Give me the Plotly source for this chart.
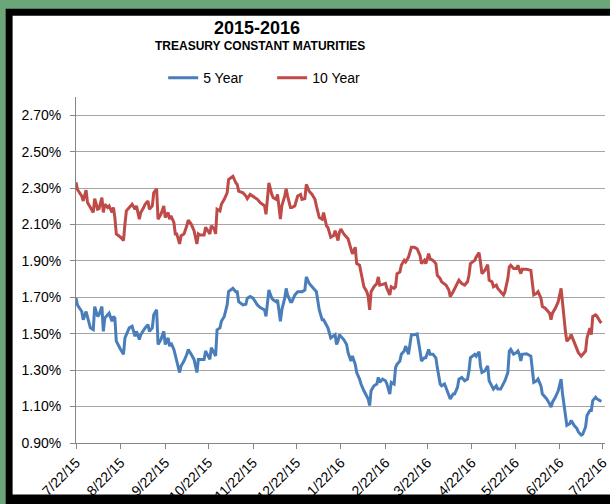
import plotly.graph_objects as go

# ---------------- data ----------------
dates = [
    "2015-07-22", "2015-07-23", "2015-07-26", "2015-07-27", "2015-07-29", "2015-07-30",
    "2015-08-01", "2015-08-03", "2015-08-04", "2015-08-06", "2015-08-07", "2015-08-09",
    "2015-08-10", "2015-08-11", "2015-08-13", "2015-08-14", "2015-08-16", "2015-08-17",
    "2015-08-18", "2015-08-19", "2015-08-22", "2015-08-24", "2015-08-25", "2015-08-26",
    "2015-08-28", "2015-08-30", "2015-09-01", "2015-09-02", "2015-09-04", "2015-09-05",
    "2015-09-07", "2015-09-08", "2015-09-10", "2015-09-11", "2015-09-13", "2015-09-14",
    "2015-09-16", "2015-09-17", "2015-09-19", "2015-09-21", "2015-09-22", "2015-09-24",
    "2015-09-25", "2015-09-26", "2015-09-28", "2015-09-29", "2015-09-30", "2015-10-02",
    "2015-10-03", "2015-10-05", "2015-10-07", "2015-10-08", "2015-10-10", "2015-10-12",
    "2015-10-14", "2015-10-15", "2015-10-16", "2015-10-19", "2015-10-20",
    "2015-10-23", "2015-10-24", "2015-10-26", "2015-10-27", "2015-10-28", "2015-10-30",
    "2015-10-31", "2015-11-02", "2015-11-04", "2015-11-05", "2015-11-08", "2015-11-10",
    "2015-11-11", "2015-11-12", "2015-11-15", "2015-11-17", "2015-11-18", "2015-11-20",
    "2015-11-22", "2015-11-25", "2015-11-27", "2015-11-30", "2015-12-01", "2015-12-02",
    "2015-12-03", "2015-12-05", "2015-12-06", "2015-12-08", "2015-12-09", "2015-12-11",
    "2015-12-12", "2015-12-14", "2015-12-15", "2015-12-16", "2015-12-18", "2015-12-19",
    "2015-12-21", "2015-12-23", "2015-12-25", "2015-12-26", "2015-12-28", "2015-12-29",
    "2015-12-31", "2016-01-02", "2016-01-04", "2016-01-05", "2016-01-07", "2016-01-09",
    "2016-01-10", "2016-01-12", "2016-01-13", "2016-01-15", "2016-01-17",
    "2016-01-18", "2016-01-19", "2016-01-20", "2016-01-21", "2016-01-22", "2016-01-24",
    "2016-01-26", "2016-01-27", "2016-01-29", "2016-01-30", "2016-02-01", "2016-02-02",
    "2016-02-04", "2016-02-05", "2016-02-07", "2016-02-09", "2016-02-10", "2016-02-11",
    "2016-02-12", "2016-02-14", "2016-02-16", "2016-02-17", "2016-02-18", "2016-02-20",
    "2016-02-22", "2016-02-23", "2016-02-25", "2016-02-26", "2016-02-28", "2016-02-29",
    "2016-03-01", "2016-03-03", "2016-03-04", "2016-03-06", "2016-03-07", "2016-03-09",
    "2016-03-11", "2016-03-13", "2016-03-15", "2016-03-17", "2016-03-18", "2016-03-20",
    "2016-03-21", "2016-03-23", "2016-03-24", "2016-03-26", "2016-03-28", "2016-03-29",
    "2016-03-31", "2016-04-01", "2016-04-03", "2016-04-04", "2016-04-06", "2016-04-07",
    "2016-04-09", "2016-04-10", "2016-04-12", "2016-04-13", "2016-04-15",
    "2016-04-17", "2016-04-19", "2016-04-20", "2016-04-21", "2016-04-24", "2016-04-25",
    "2016-04-27", "2016-04-28", "2016-04-29", "2016-05-01", "2016-05-03", "2016-05-04",
    "2016-05-06", "2016-05-07", "2016-05-09", "2016-05-10", "2016-05-12", "2016-05-14",
    "2016-05-15", "2016-05-17", "2016-05-18", "2016-05-19", "2016-05-21", "2016-05-23",
    "2016-05-24", "2016-05-25", "2016-05-26", "2016-05-27", "2016-05-30", "2016-06-02",
    "2016-06-03", "2016-06-04", "2016-06-06", "2016-06-07", "2016-06-09", "2016-06-10",
    "2016-06-12", "2016-06-13", "2016-06-15", "2016-06-16", "2016-06-17", "2016-06-19",
    "2016-06-21", "2016-06-23", "2016-06-24", "2016-06-25", "2016-06-26", "2016-06-27",
    "2016-06-29", "2016-06-30", "2016-07-02", "2016-07-04", "2016-07-05", "2016-07-07",
    "2016-07-08", "2016-07-10", "2016-07-11", "2016-07-13", "2016-07-14", "2016-07-15",
    "2016-07-17", "2016-07-18", "2016-07-20", "2016-07-21",
]

five_year = [
    1.698, 1.658, 1.622, 1.577, 1.622, 1.595, 1.532, 1.522, 1.649, 1.595, 1.604, 1.649,
    1.513, 1.586, 1.604, 1.613, 1.568, 1.595, 1.586, 1.459, 1.414, 1.387, 1.477, 1.495,
    1.532, 1.541, 1.486, 1.513, 1.468, 1.495, 1.522, 1.532, 1.550, 1.513, 1.532, 1.604,
    1.631, 1.441, 1.468, 1.513, 1.441, 1.477, 1.432, 1.450, 1.414, 1.378, 1.350, 1.287,
    1.323, 1.350, 1.387, 1.414, 1.387, 1.359, 1.287, 1.359, 1.359, 1.359, 1.405,
    1.359, 1.423, 1.387, 1.378, 1.522, 1.532, 1.568, 1.595, 1.658, 1.731, 1.749, 1.731,
    1.731, 1.676, 1.658, 1.662, 1.695, 1.704, 1.695, 1.658, 1.644, 1.631, 1.595, 1.658,
    1.740, 1.695, 1.686, 1.676, 1.686, 1.568, 1.631, 1.695, 1.749, 1.713, 1.676, 1.676,
    1.713, 1.731, 1.731, 1.731, 1.740, 1.812, 1.776, 1.758, 1.740, 1.731, 1.631, 1.577,
    1.577, 1.541, 1.532, 1.477, 1.486,
    1.495, 1.441, 1.459, 1.495, 1.486, 1.468, 1.441, 1.396, 1.350, 1.378, 1.332, 1.287,
    1.251, 1.224, 1.187, 1.151, 1.142, 1.106, 1.187, 1.214, 1.224, 1.260, 1.233, 1.251,
    1.242, 1.224, 1.169, 1.233, 1.224, 1.314, 1.332, 1.350, 1.387, 1.405, 1.432, 1.387,
    1.495, 1.495, 1.499, 1.405, 1.350, 1.368, 1.368, 1.414, 1.387, 1.387, 1.368, 1.314,
    1.224, 1.214, 1.224, 1.205, 1.169, 1.142, 1.169, 1.169, 1.205, 1.251, 1.260,
    1.242, 1.251, 1.296, 1.368, 1.387, 1.377, 1.401, 1.323, 1.287, 1.296, 1.323, 1.242,
    1.214, 1.196, 1.214, 1.196, 1.196, 1.224, 1.242, 1.287, 1.405, 1.414, 1.387, 1.396,
    1.405, 1.387, 1.350, 1.387, 1.390, 1.377, 1.296, 1.233, 1.242, 1.251, 1.214, 1.169,
    1.151, 1.142, 1.115, 1.097, 1.124, 1.151, 1.187, 1.251, 1.169, 1.115, 1.042, 0.997,
    1.006, 1.024, 0.997, 0.979, 0.961, 0.943, 0.948, 0.988, 1.051, 1.079, 1.079, 1.133,
    1.151, 1.142, 1.133, 1.129,
]

ten_year = [
    2.332, 2.292, 2.256, 2.229, 2.289, 2.220, 2.193, 2.166, 2.242, 2.184, 2.187, 2.247,
    2.166, 2.211, 2.193, 2.202, 2.166, 2.193, 2.138, 2.048, 2.030, 2.012, 2.102, 2.175,
    2.193, 2.211, 2.184, 2.202, 2.129, 2.166, 2.193, 2.211, 2.229, 2.184, 2.202, 2.274,
    2.296, 2.129, 2.156, 2.202, 2.138, 2.166, 2.129, 2.147, 2.111, 2.048, 2.048, 1.993,
    2.039, 2.048, 2.093, 2.124, 2.102, 2.066, 1.993, 2.048, 2.042, 2.042, 2.084,
    2.048, 2.093, 2.075, 2.048, 2.184, 2.175, 2.211, 2.238, 2.274, 2.347, 2.365, 2.329,
    2.320, 2.283, 2.274, 2.256, 2.242, 2.265, 2.256, 2.238, 2.220, 2.202, 2.156, 2.256,
    2.329, 2.265, 2.247, 2.238, 2.265, 2.129, 2.202, 2.256, 2.296, 2.256, 2.193, 2.193,
    2.202, 2.256, 2.265, 2.238, 2.242, 2.320, 2.283, 2.265, 2.238, 2.202, 2.138, 2.129,
    2.166, 2.093, 2.084, 2.030, 2.039,
    2.066, 2.039, 2.012, 2.057, 2.075, 2.048, 2.030, 2.021, 1.966, 1.939, 1.975, 1.885,
    1.876, 1.830, 1.758, 1.731, 1.704, 1.631, 1.731, 1.758, 1.776, 1.812, 1.767, 1.771,
    1.776, 1.749, 1.713, 1.758, 1.749, 1.758, 1.830, 1.839, 1.876, 1.903, 1.894, 1.921,
    1.975, 1.975, 1.966, 1.930, 1.885, 1.903, 1.885, 1.939, 1.912, 1.903, 1.885, 1.821,
    1.803, 1.785, 1.776, 1.767, 1.740, 1.704, 1.731, 1.749, 1.785, 1.794, 1.776,
    1.767, 1.785, 1.821, 1.885, 1.903, 1.921, 1.945, 1.894, 1.830, 1.848, 1.879, 1.794,
    1.785, 1.758, 1.767, 1.749, 1.731, 1.713, 1.731, 1.803, 1.867, 1.876, 1.858, 1.858,
    1.876, 1.858, 1.830, 1.854, 1.854, 1.848, 1.794, 1.713, 1.722, 1.731, 1.695, 1.649,
    1.640, 1.631, 1.613, 1.577, 1.613, 1.640, 1.676, 1.749, 1.658, 1.586, 1.513, 1.459,
    1.477, 1.495, 1.459, 1.423, 1.396, 1.377, 1.387, 1.405, 1.477, 1.531, 1.495, 1.595,
    1.604, 1.595, 1.568, 1.559,
]

x_tick_dates = [
    "2015-07-22", "2015-08-22", "2015-09-22", "2015-10-22", "2015-11-22", "2015-12-22",
    "2016-01-22", "2016-02-22", "2016-03-22", "2016-04-22", "2016-05-22", "2016-06-22",
    "2016-07-22",
]
x_tick_labels = [
    "7/22/15", "8/22/15", "9/22/15", "10/22/15", "11/22/15", "12/22/15",
    "1/22/16", "2/22/16", "3/22/16", "4/22/16", "5/22/16", "6/22/16", "7/22/16",
]
y_tick_values = [0.9, 1.1, 1.3, 1.5, 1.7, 1.9, 2.1, 2.3, 2.5, 2.7]
y_tick_labels = ["0.90%", "1.10%", "1.30%", "1.50%", "1.70%", "1.90%",
                 "2.10%", "2.30%", "2.50%", "2.70%"]

title_text = "2015-2016"
subtitle_text = "TREASURY CONSTANT MATURITIES"

# ---------------- figure ----------------
FONT = "Liberation Sans, Arial, sans-serif"
BLUE = "#4a7ebb"
RED = "#be4b48"
AXIS = "#868686"
GRID = "#a6a6a6"

fig = go.Figure()
fig.add_trace(go.Scatter(x=dates, y=five_year, mode="lines", name="5 Year",
                         line=dict(color=BLUE, width=3)))
fig.add_trace(go.Scatter(x=dates, y=ten_year, mode="lines", name="10 Year",
                         line=dict(color=RED, width=3)))

W, H = 610, 504
L, R, T, B = 76, 0, 97, 58
pw, ph = W - L - R, H - T - B


def px_x(p):
    return (p - L) / pw


def px_y(p):
    return (H - B - p) / ph


shapes = [
    dict(type="rect", xref="paper", yref="paper", layer="below",
         x0=px_x(5), x1=px_x(W + 40), y0=px_y(H + 20), y1=px_y(8),
         fillcolor="#000000", line=dict(width=0)),
    dict(type="rect", xref="paper", yref="paper", layer="below",
         x0=px_x(12), x1=px_x(W + 40), y0=px_y(498), y1=px_y(15),
         fillcolor="#ffffff", line=dict(width=0)),
]

annotations = [
    dict(text="<b>%s</b>" % title_text, xref="paper", yref="paper",
         x=px_x(259), y=px_y(27), xanchor="center", yanchor="middle",
         showarrow=False, font=dict(family=FONT, size=18, color="#000000")),
    dict(text="<b>%s</b>" % subtitle_text, xref="paper", yref="paper",
         x=px_x(262), y=px_y(46), xanchor="center", yanchor="middle",
         showarrow=False, font=dict(family=FONT, size=12, color="#000000")),
]

fig.update_layout(
    width=W, height=H,
    margin=dict(l=L, r=R, t=T, b=B, pad=0),
    paper_bgcolor="#6aa67a",
    plot_bgcolor="rgba(0,0,0,0)",
    font=dict(family=FONT, size=14, color="#000000"),
    shapes=shapes,
    annotations=annotations,
    showlegend=True,
    legend=dict(orientation="h", x=px_x(164), y=px_y(78), xanchor="left",
                yanchor="middle", bgcolor="rgba(0,0,0,0)", entrywidth=64,
                font=dict(family=FONT, size=14, color="#000000")),
    xaxis=dict(type="date", range=["2015-07-22", "2016-07-23 12:00"],
               tickmode="array", tickvals=x_tick_dates, ticktext=x_tick_labels,
               tickangle=-45, showgrid=False, zeroline=False,
               showline=True, linecolor=AXIS, linewidth=1,
               ticks="outside", ticklen=5, tickcolor=AXIS,
               ticklabeloverflow="allow",
               tickfont=dict(family=FONT, size=14, color="#000000")),
    yaxis=dict(range=[0.9, 2.8], tickmode="array", tickvals=y_tick_values,
               ticktext=y_tick_labels, showgrid=True, gridcolor=GRID, gridwidth=1,
               zeroline=False, showline=True, linecolor=AXIS, linewidth=1,
               ticks="outside", ticklen=5, tickcolor=AXIS, ticklabelstandoff=6,
               tickfont=dict(family=FONT, size=14, color="#000000")),
)

page_fix = (
    "document.documentElement.style.margin='0';"
    "document.documentElement.style.overflow='hidden';"
    "document.body.style.margin='0';"
    "document.body.style.overflow='hidden';"
)

fig.write_html("out.html", post_script=page_fix,
               config={"displayModeBar": False, "responsive": False})
